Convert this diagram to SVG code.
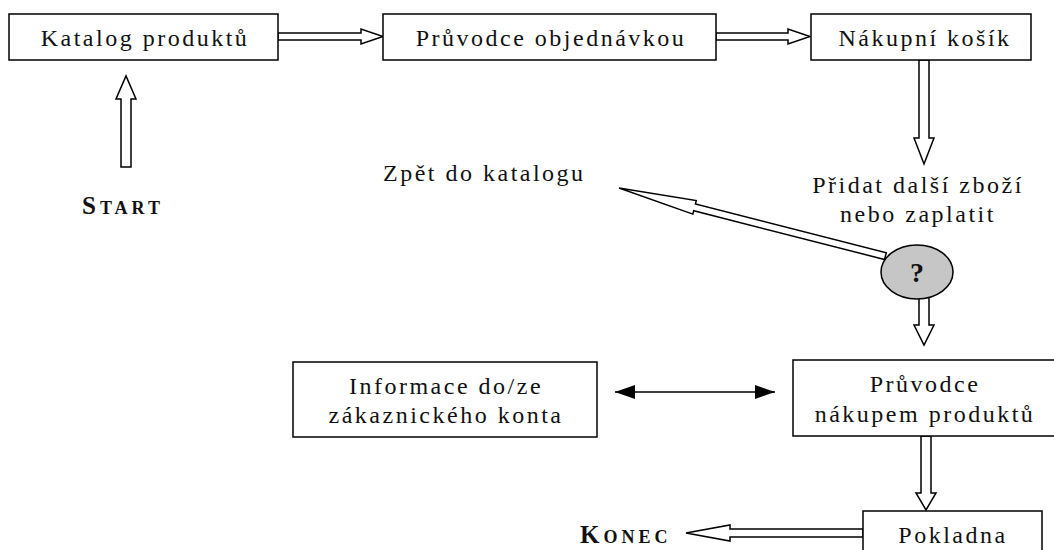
<svg xmlns="http://www.w3.org/2000/svg" width="1054" height="550" viewBox="0 0 1054 550">
<style>
.box{fill:#fff;stroke:#000;stroke-width:1.5}
.t{font-family:'Liberation Serif',Tinos,'Times New Roman',Times,'Nimbus Roman','Nimbus Roman No9 L',FreeSerif,serif;font-size:24px;letter-spacing:2.5px;fill:#111}
.m{text-anchor:middle}
.b{font-family:'Liberation Serif',Tinos,'Times New Roman',Times,'Nimbus Roman','Nimbus Roman No9 L',FreeSerif,serif;font-weight:bold;fill:#111}
.ha{fill:#fff;stroke:#000;stroke-width:1.5;stroke-linejoin:miter}
</style>
<defs>
<marker id="fh" viewBox="0 0 20 14" refX="20" refY="7" markerWidth="20" markerHeight="14" markerUnits="userSpaceOnUse" orient="auto-start-reverse">
<path d="M0,0 L20,7 L0,14 z" fill="#000"/>
</marker>
</defs>
<rect width="1054" height="550" fill="#fff"/>
<g id="connectors">
<polygon class="ha" points="278,33 361,33 361,29 383,36.5 361,44 361,40 278,40"/>
<polygon class="ha" points="716,33 788,33 788,29 810,36.5 788,44 788,40 716,40"/>
<polygon class="ha" points="121,167 121,99 116,99 126,76 136,99 131,99 131,167"/>
<polygon class="ha" points="919,60 929,60 929,138 934,138 924,164 914,138 919,138"/>
<polygon class="ha" transform="translate(619,188) rotate(14.34)" points="0,0 78,-7 78,-3.5 275,-3.5 275,3.5 78,3.5 78,7"/>
<polygon class="ha" points="919,292 929,292 929,325 934,325 924,345 914,325 919,325"/>
<polygon class="ha" points="921,436 931,436 931,493 936,493 926,510 916,493 921,493"/>
<polygon class="ha" points="863,529 730,529 730,525 686,533 730,541 730,537 863,537"/>
<line x1="615" y1="392" x2="775" y2="392" stroke="#000" stroke-width="1.5" marker-start="url(#fh)" marker-end="url(#fh)"/>
</g>
<g id="katalog">
<rect class="box" x="9" y="14" width="269" height="46"/>
<text class="t m" x="145" y="46">Katalog produktů</text>
</g>
<g id="pruvodce-objednavkou">
<rect class="box" x="383" y="14" width="333" height="46"/>
<text class="t m" x="551" y="46">Průvodce objednávkou</text>
</g>
<g id="kosik">
<rect class="box" x="811" y="14" width="220" height="46"/>
<text class="t m" x="925" y="46">Nákupní košík</text>
</g>
<g id="start">
<text class="b" x="82" y="214" letter-spacing="4"><tspan font-size="25">S</tspan><tspan font-size="18">TART</tspan></text>
</g>
<g id="zpet">
<text class="t" x="383" y="181">Zpět do katalogu</text>
</g>
<g id="pridat">
<text class="t m" x="918" y="193">Přidat další zboží</text>
<text class="t m" x="918" y="222">nebo zaplatit</text>
</g>
<g id="decision">
<ellipse cx="917" cy="272" rx="36" ry="27" fill="#c6c6c6" stroke="#000" stroke-width="1.5"/>
<text class="b" x="917" y="282" font-size="28" text-anchor="middle">?</text>
</g>
<g id="informace">
<rect class="box" x="293" y="362" width="304" height="75"/>
<text class="t m" x="446" y="394">Informace do/ze</text>
<text class="t m" x="446" y="423">zákaznického konta</text>
</g>
<g id="pruvodce-nakupem">
<rect class="box" x="793" y="360" width="264" height="76"/>
<text class="t m" x="925" y="392">Průvodce</text>
<text class="t m" x="925" y="422">nákupem produktů</text>
</g>
<g id="pokladna">
<rect class="box" x="863" y="511" width="179" height="50"/>
<text class="t m" x="953" y="543">Pokladna</text>
</g>
<g id="konec">
<text class="b" x="580" y="543" letter-spacing="4"><tspan font-size="25">K</tspan><tspan font-size="18">ONEC</tspan></text>
</g>
</svg>
